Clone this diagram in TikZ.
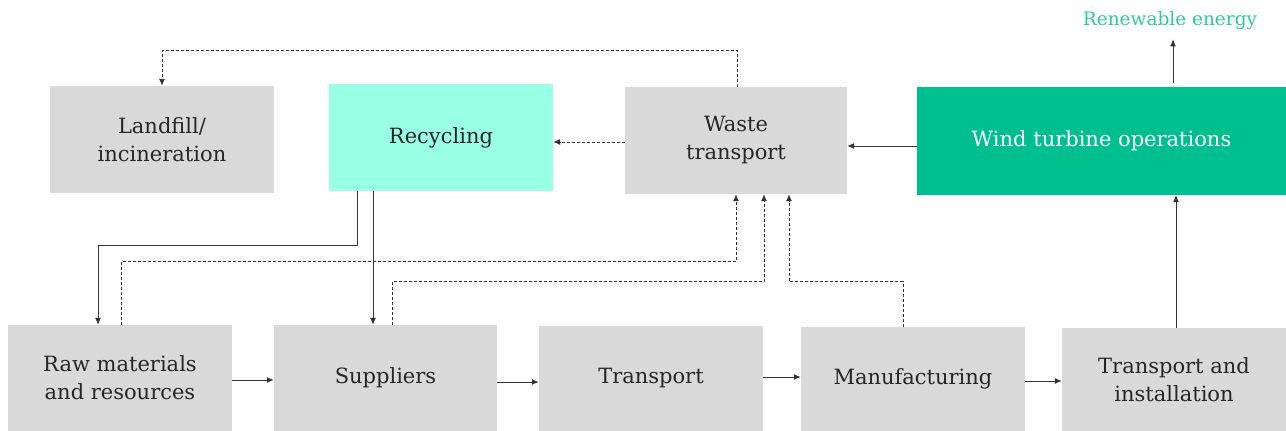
\documentclass[tikz,border=0pt]{standalone}
\usepackage{fontspec}
\setmainfont{DejaVu Serif}
\usetikzlibrary{arrows.meta}
\definecolor{boxgray}{HTML}{D9D9D9}
\definecolor{mint}{HTML}{99FFE5}
\definecolor{windgreen}{HTML}{00BF8F}
\definecolor{txtgreen}{HTML}{2ECC99}
\definecolor{txtdark}{HTML}{262626}
\definecolor{linedark}{HTML}{333333}
\tikzset{
  box/.style={rectangle, fill=boxgray, inner sep=0pt, align=center, text=txtdark,
    font=\fontsize{21}{28}\selectfont},
  sol/.style={draw=linedark, line width=1pt, -{Latex[length=7pt,width=6pt]}},
  dsh/.style={draw=linedark, line width=0.9pt, dash pattern=on 3pt off 2pt, -{Latex[length=7pt,width=6pt]}},
}
\begin{document}
\begin{tikzpicture}[x=1pt,y=-1pt]
\useasboundingbox (0,0) rectangle (1286,431);
% top row
\node[box, minimum width=224pt, minimum height=107pt] (land) at (162,139.5) {Landfill/\\incineration};
\node[box, fill=mint, minimum width=224pt, minimum height=107pt] (recy) at (441,137.5) {Recycling};
\node[box, minimum width=222pt, minimum height=107pt] (waste) at (736,140.5) {Waste\\transport};
\node[box, fill=windgreen, text=white, minimum width=369pt, minimum height=108pt] (wind) at (1101.5,141) {Wind turbine operations};
\node[text=txtgreen, font=\fontsize{18.5}{22}\selectfont, inner ysep=9pt] (renew) at (1170,21) {Renewable energy};
% bottom row
\node[box, minimum width=224pt, minimum height=106pt] (raw) at (120,378) {Raw materials\\and resources};
\node[box, minimum width=223pt, minimum height=106pt] (sup) at (385.5,378) {Suppliers};
\node[box, minimum width=224pt, minimum height=105pt] (trans) at (651,378.5) {Transport};
\node[box, minimum width=224pt, minimum height=104pt] (manu) at (913,379) {Manufacturing};
\node[box, minimum width=224pt, minimum height=103pt] (ti) at (1174,379.5) {Transport and\\installation};
% bottom flow
\draw[sol] ([yshift=-2pt]raw.east) -- ([yshift=-2pt]raw.east -| sup.west);
\draw[sol] ([yshift=-4pt]sup.east) -- ([yshift=-4pt]sup.east -| trans.west);
\draw[sol] ([yshift=1.5pt]trans.east) -- ([yshift=1.5pt]trans.east -| manu.west);
\draw[sol] ([yshift=-2pt]manu.east) -- ([yshift=-2pt]manu.east -| ti.west);
\draw[sol] ([xshift=2pt]ti.north) -- ([xshift=2pt]ti.north |- wind.south);
\draw[sol] ([xshift=71.5pt,yshift=4pt]wind.north) -- ([xshift=71.5pt]wind.north |- renew.south);
\draw[sol] ([yshift=-5pt]wind.west) -- ([yshift=-5pt]wind.west -| waste.east);
% waste flows
\draw[dsh] ([yshift=-1.5pt]waste.west) -- ([yshift=-1.5pt]waste.west -| recy.east);
\draw[dsh] ([xshift=1.5pt]waste.north) -- ++(0,-36) -| (land.north);
% recycling returns
\draw[sol] ([xshift=-84pt]recy.south) -- ++(0,54) -| ([xshift=-22pt]raw.north);
\draw[sol] ([xshift=-68pt]recy.south) -- ([xshift=-68pt]recy.south |- sup.north);
% dashed to waste transport
\draw[dsh] ([xshift=1pt]raw.north) -- ++(0,-63) -| (waste.south);
\draw[dsh] ([xshift=6.5pt]sup.north) -- ++(0,-43) -| ([xshift=28pt]waste.south);
\draw[dsh] ([xshift=-10pt]manu.north) -- ++(0,-45) -| ([xshift=53pt]waste.south);
\end{tikzpicture}
\end{document}
